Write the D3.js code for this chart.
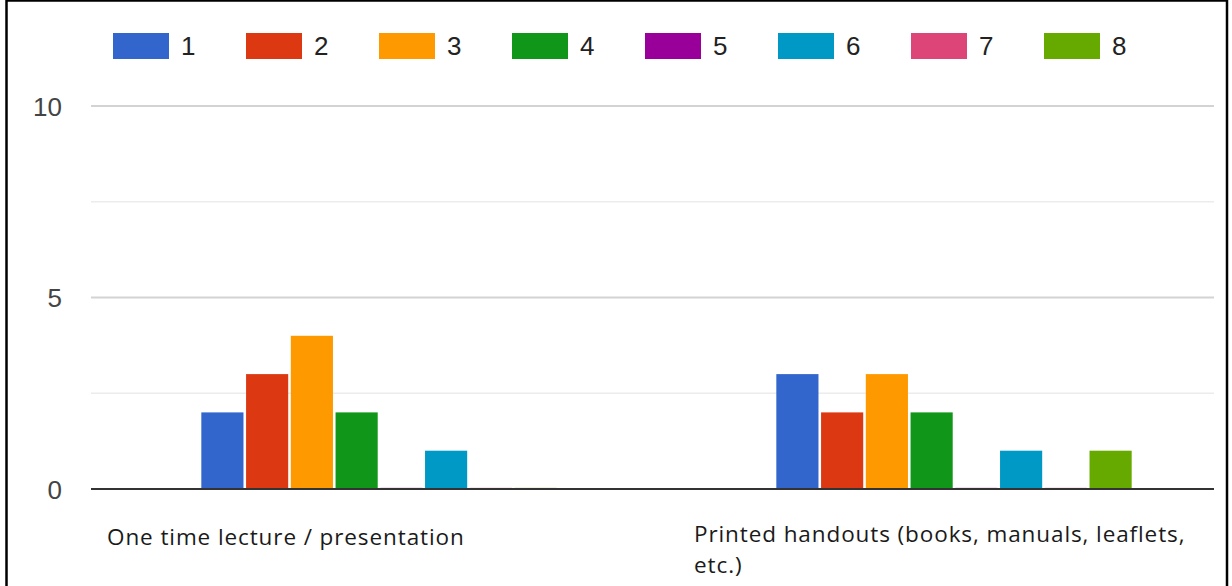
<!DOCTYPE html>
<html>
<head>
<meta charset="utf-8">
<script src="https://cdn.jsdelivr.net/npm/d3@7"></script>
<style>
  html, body { margin: 0; padding: 0; background: #fff; }
  svg { display: block; }
</style>
</head>
<body>
<svg id="chart" width="1232" height="586"></svg>
<script>
// Category labels (first one is a single line, second wraps onto two lines)
const categories = ["One time lecture / presentation", "Printed handouts (books, manuals, leaflets, etc.)"];
const categoryLines = [
  ["One time lecture / presentation"],
  ["Printed handouts (books, manuals, leaflets,", "etc.)"]
];
const seriesNames = ["1", "2", "3", "4", "5", "6", "7", "8"];
const seriesColors = ["#3366cc", "#dc3912", "#ff9900", "#109618", "#990099", "#0099c6", "#dd4477", "#66aa00"];
// Counts per rating, one array per category
const lectureValues = [2, 3, 4, 2, 0, 1, 0, 0];
const handoutValues = [3, 2, 3, 2, 0, 1, 0, 1];
const majorTicks = [0, 5, 10];
const minorTicks = [2.5, 7.5];

const values = [lectureValues, handoutValues];

const svg = d3.select("#chart");

// plot area
const plotLeft = 91, plotRight = 1214;
const y = d3.scaleLinear().domain([0, 10]).range([489, 106]);

// each category occupies a 575px slot; the bar group fills 61.8% of it
const x0 = d3.scaleBand()
  .domain(categories)
  .range([plotLeft + 0.5, plotLeft + 0.5 + 1150])
  .paddingInner(0.382)
  .paddingOuter(0.191);
const x1 = d3.scaleBand()
  .domain(seriesNames)
  .range([0, x0.bandwidth()])
  .paddingInner(0.058)
  .paddingOuter(0);

// frame
svg.append("rect")
  .attr("x", 6.5).attr("y", 0.5)
  .attr("width", 1220.5).attr("height", 620)
  .attr("fill", "none").attr("stroke", "#000").attr("stroke-width", 2.5);

// gridlines
const grid = svg.append("g");
grid.selectAll("line.minor").data(minorTicks).join("line")
  .attr("class", "minor")
  .attr("x1", plotLeft).attr("x2", plotRight)
  .attr("y1", d => y(d)).attr("y2", d => y(d))
  .attr("stroke", "#ececec").attr("stroke-width", 1.5);
grid.selectAll("line.major").data(majorTicks.filter(d => d !== 0)).join("line")
  .attr("class", "major")
  .attr("x1", plotLeft).attr("x2", plotRight)
  .attr("y1", d => y(d)).attr("y2", d => y(d))
  .attr("stroke", "#d3d3d3").attr("stroke-width", 1.8);

// y-axis tick labels
const yAxis = d3.axisLeft(y).tickValues(majorTicks).tickSize(0).tickPadding(0).tickFormat(d3.format("d"));
svg.append("g")
  .attr("transform", `translate(62,0)`)
  .call(yAxis)
  .call(g => g.select(".domain").remove())
  .call(g => g.selectAll("text")
    .attr("font-family", "'Liberation Sans', Arial, sans-serif")
    .attr("font-size", 26)
    .attr("fill", "#444")
    .attr("dy", "0.36em"));

// bars
const groups = svg.append("g").selectAll("g")
  .data(categories.map((c, i) => ({ cat: c, vals: values[i] })))
  .join("g")
  .attr("transform", d => `translate(${x0(d.cat)},0)`);

groups.selectAll("rect")
  .data(d => d.vals.map((v, j) => ({ s: seriesNames[j], v, color: seriesColors[j] })))
  .join("rect")
  .attr("x", d => x1(d.s))
  .attr("width", x1.bandwidth())
  .attr("y", d => d.v > 0 ? y(d.v) : y(0) - 1.5)
  .attr("height", d => d.v > 0 ? y(0) - y(d.v) : 1.5)
  .attr("fill", d => d.color)
  .attr("fill-opacity", d => d.v > 0 ? 1 : 0.25);

// zero baseline
svg.append("line")
  .attr("x1", plotLeft).attr("x2", plotRight)
  .attr("y1", y(0)).attr("y2", y(0))
  .attr("stroke", "#333").attr("stroke-width", 2.2);

// category labels, one text element per wrapped line
const labelX = [107, 694];
const labelY = [545, 542];
const lineGap = 31;
categoryLines.forEach((lines, i) => {
  lines.forEach((ln, k) => {
    svg.append("text")
      .attr("x", labelX[i])
      .attr("y", labelY[i] + k * lineGap)
      .attr("font-family", "'Open Sans', 'Noto Sans', sans-serif")
      .attr("font-size", 22.5)
      .attr("letter-spacing", 0.9)
      .attr("fill", "#1a1a1a")
      .text(ln);
  });
});

// legend
const legend = svg.append("g");
const lx = d3.scaleBand().domain(seriesNames).range([113, 113 + 133 * 8]);
const item = legend.selectAll("g").data(seriesNames).join("g")
  .attr("transform", d => `translate(${lx(d)},0)`);
item.append("rect")
  .attr("x", 0).attr("y", 33)
  .attr("width", 56).attr("height", 26)
  .attr("fill", (d, i) => seriesColors[i]);
item.append("text")
  .attr("x", 68).attr("y", 46)
  .attr("dy", "0.36em")
  .attr("font-family", "'Liberation Sans', Arial, sans-serif")
  .attr("font-size", 26)
  .attr("fill", "#222")
  .text(d => d);
</script>
</body>
</html>
